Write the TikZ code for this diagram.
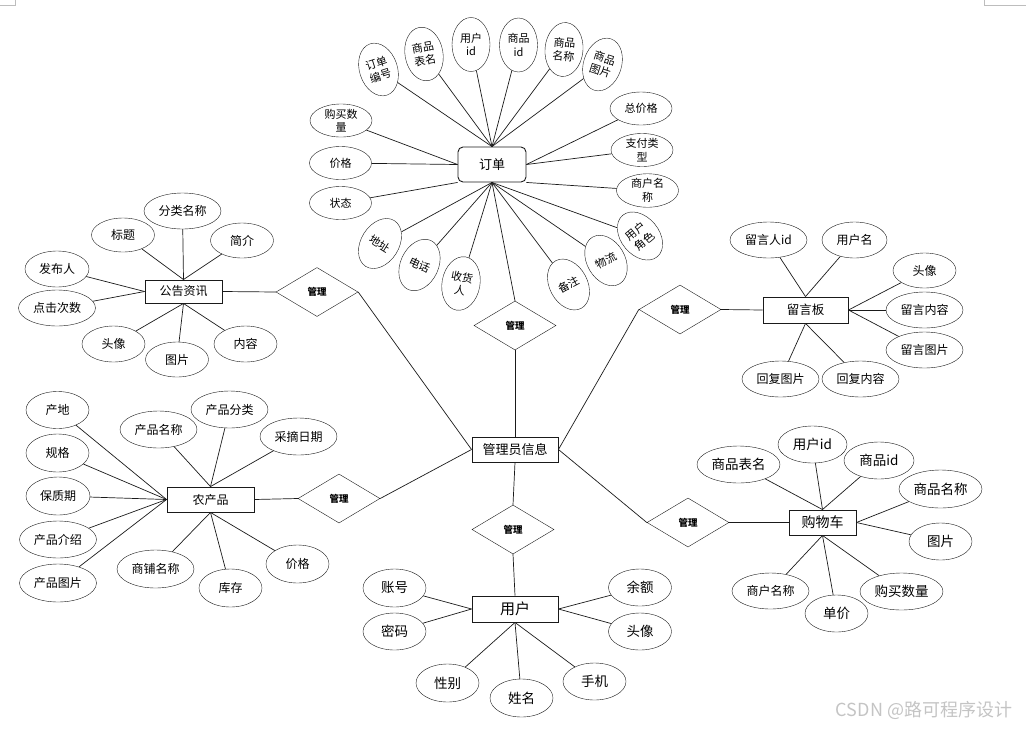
\documentclass[tikz,border=0pt]{standalone}
\usepackage{fontspec}
\newfontfamily\cjk{Noto Sans CJK SC}
\usetikzlibrary{shapes.geometric}
\definecolor{erLine}{HTML}{1A1A1A}
\definecolor{erMark}{HTML}{BDBDBD}
\definecolor{erMute}{HTML}{C4C4C4}
\newcommand{\fsz}[2]{\fontsize{#1}{#2}\selectfont}

\begin{document}
\begin{tikzpicture}[x=1pt,y=-1pt,font=\cjk,
      attr/.style={draw=erLine,ellipse,inner sep=0pt,minimum width=63pt,
                   minimum height=37pt,font=\cjk\fsz{12}{14}},
      wide/.style={minimum width=77pt},
      big/.style={font=\cjk\fsz{13.5}{16}},
      tall/.style={draw=erLine,ellipse,inner sep=0pt,minimum width=38pt,
                   minimum height=54pt,align=center,font=\cjk\fsz{11}{13.5}},
      flat/.style={draw=erLine,ellipse,inner sep=0pt,minimum width=62pt,
                   minimum height=33pt,align=center,font=\cjk\fsz{11}{13.5}},
      ent/.style={draw=erLine,line width=0.9pt,inner sep=0pt,minimum height=25pt,
                  font=\cjk\fsz{13}{16}},
      rel/.style={draw=erLine,diamond,inner sep=0pt,minimum width=82pt,
                  minimum height=49pt,font=\cjk\bfseries\fsz{9.5}{11}},
      link/.style={draw=erLine,line width=0.7pt}]

    \useasboundingbox (0,0) rectangle (1026,729);
    \draw[erMark] (0,5) -- (15,5) -- (15,0);
    \draw[erMark] (1026,5) -- (984,5) -- (984,0);

    % centre
    \node[ent,minimum width=86pt] (admin) at (515,449.5) {管理员信息};

    % order
    \node[ent,rounded corners=5pt,minimum width=68pt,minimum height=35pt] (order) at (492,164.5) {订单};
    \node[tall,rotate=18] (o1) at (378.5,69.5) {订单\\编号};
    \node[tall,rotate=10] (o2) at (424,54) {商品\\表名};
    \node[tall] (o3) at (471,44.5) {用户\\id};
    \node[tall] (o4) at (518.5,45) {商品\\id};
    \node[tall,rotate=-5] (o5) at (564,49.5) {商品\\名称};
    \node[tall,rotate=-18] (o6) at (602.5,64.5) {商品\\图片};
    \node[flat] (o7) at (641,108.5) {总价格};
    \node[flat] (o8) at (642,150) {支付类\\型};
    \node[flat] (o9) at (647.5,190.5) {商户名\\称};
    \node[tall,rotate=40] (o10) at (640,236) {用户\\角色};
    \node[tall,rotate=30] (o11) at (606,260.5) {物流};
    \node[tall,rotate=28] (o12) at (568.5,284.5) {备注};
    \node[tall,rotate=-10] (o13) at (461,283.5) {收货\\人};
    \node[tall,rotate=-25] (o14) at (419.5,265) {电话};
    \node[tall,rotate=-32] (o15) at (380,243.5) {地址};
    \node[flat] (o16) at (340.5,203) {状态};
    \node[flat] (o17) at (340.5,163) {价格};
    \node[flat] (o18) at (341,120.5) {购买数\\量};
    \foreach \a/\b in {o1/north,o2/north,o3/north,o4/north,o5/north,o6/north,
                       o7/east,o8/east,o9/south east,o10/south,o11/south,o12/south,
                       o13/south,o14/south,o15/south,o16/south west,o17/west,o18/west}
      \draw[link] (\a) -- (order.\b);
    \node[rel] (r1) at (515,325.5) {管理};
    \draw[link] (order.south) -- (r1.north);
    \draw[link] (r1.south) -- (admin.north);

    % notice
    \node[ent,minimum width=77pt,minimum height=23pt,font=\cjk\fsz{12}{14}] (notice) at (183.5,291.5) {公告资讯};
    \node[attr,wide,minimum height=36pt] (n1) at (182.5,211) {分类名称};
    \node[attr,minimum height=34pt] (n2) at (123,235) {标题};
    \node[attr,minimum height=35pt] (n3) at (242,240.5) {简介};
    \node[attr,minimum width=64pt,minimum height=36pt] (n4) at (57,269) {发布人};
    \node[attr,wide,minimum height=36pt] (n5) at (57,308) {点击次数};
    \node[attr,minimum height=36pt] (n6) at (113.5,344) {头像};
    \node[attr,minimum height=35pt] (n7) at (177,359.5) {图片};
    \node[attr,minimum height=36pt] (n8) at (245.5,344) {内容};
    \foreach \a/\b in {n1/north,n2/north,n3/north,n4/west,n5/west,n6/south,n7/south,n8/south}
      \draw[link] (\a) -- (notice.\b);
    \node[rel] (r2) at (317,292) {管理};
    \draw[link] (notice.east) -- (r2.west);
    \draw[link] (r2.east) -- (admin.west);

    % farm produce
    \node[ent,minimum width=87pt,font=\cjk\fsz{12}{14}] (farm) at (210.5,499.5) {农产品};
    \node[attr] (f1) at (57.5,410) {产地};
    \node[attr,minimum height=38pt] (f2) at (57.5,453) {规格};
    \node[attr,minimum width=64pt,minimum height=38pt] (f3) at (58,496) {保质期};
    \node[attr,wide] (f4) at (58,539.5) {产品介绍};
    \node[attr,wide,minimum height=38pt] (f5) at (58,583) {产品图片};
    \node[attr,wide] (f6) at (158.5,429.5) {产品名称};
    \node[attr,wide] (f7) at (229.5,409.5) {产品分类};
    \node[attr,wide] (f8) at (298.5,436.5) {采摘日期};
    \node[attr,wide,minimum height=38pt] (f9) at (155.5,569) {商铺名称};
    \node[attr,minimum height=38pt] (f10) at (230.5,588) {库存};
    \node[attr,minimum height=38pt] (f11) at (297.5,564) {价格};
    \foreach \a/\b in {f1/west,f2/west,f3/west,f4/west,f5/west,
                       f6/north,f7/north,f8/north,f9/south,f10/south,f11/south}
      \draw[link] (\a) -- (farm.\b);
    \node[rel] (r3) at (339,498.5) {管理};
    \draw[link] (farm.east) -- (r3.west);
    \draw[link] (r3.east) -- (admin.west);

    % message board
    \node[ent,minimum width=85pt,minimum height=26pt,font=\cjk\fsz{12.5}{15}] (board) at (805.5,310) {留言板};
    \node[attr,wide,minimum height=36pt] (b1) at (768.5,240) {留言人id};
    \node[attr,minimum width=65pt,minimum height=36pt] (b2) at (854.5,240) {用户名};
    \node[attr,minimum height=35pt] (b3) at (924.5,270.5) {头像};
    \node[attr,wide,minimum height=36pt] (b4) at (924.5,310) {留言内容};
    \node[attr,wide,minimum height=36pt] (b5) at (924.5,350) {留言图片};
    \node[attr,wide,minimum height=36pt] (b6) at (780.5,379) {回复图片};
    \node[attr,wide,minimum height=36pt] (b7) at (860.5,379) {回复内容};
    \foreach \a/\b in {b1/north,b2/north,b3/east,b4/east,b5/east,b6/south,b7/south}
      \draw[link] (\a) -- (board.\b);
    \node[rel] (r4) at (680,309.5) {管理};
    \draw[link] (admin.east) -- (r4.west);
    \draw[link] (r4.east) -- (board.west);

    % cart
    \node[ent,minimum width=67pt,font=\cjk\fsz{14}{16}] (cart) at (822.5,522.5) {购物车};
    \node[attr,big,minimum width=83pt] (c1) at (738.5,464.5) {商品表名};
    \node[attr,big,minimum width=69pt] (c2) at (812.5,444.5) {用户id};
    \node[attr,big,minimum width=70pt] (c3) at (879,460.5) {商品id};
    \node[attr,big,minimum width=83pt,minimum height=38pt] (c4) at (940.5,489) {商品名称};
    \node[attr,big] (c5) at (940.5,541.5) {图片};
    \node[attr,wide,minimum height=36pt] (c6) at (770.5,591) {商户名称};
    \node[attr,big] (c7) at (836.5,613.5) {单价};
    \node[attr,big,minimum width=83pt] (c8) at (901.5,591.5) {购买数量};
    \foreach \a/\b in {c1/north,c2/north,c3/north,c4/east,c5/east,c6/south,c7/south,c8/south}
      \draw[link] (\a) -- (cart.\b);
    \node[rel] (r5) at (688,522.5) {管理};
    \draw[link] (admin.east) -- (r5.west);
    \draw[link] (r5.east) -- (cart.west);

    % user
    \node[ent,minimum width=86pt,minimum height=26pt,font=\cjk\fsz{15}{17}] (user) at (515,609) {用户};
    \node[attr,big,minimum height=38pt] (u1) at (394.5,588) {账号};
    \node[attr,big] (u2) at (394.5,631.5) {密码};
    \node[attr,big] (u3) at (640,587.5) {余额};
    \node[attr,big] (u4) at (640,631.5) {头像};
    \node[attr,big,minimum height=38pt] (u5) at (447.5,683) {性别};
    \node[attr,big,minimum height=38pt] (u6) at (521.5,698) {姓名};
    \node[attr,big] (u7) at (594.5,681.5) {手机};
    \foreach \a/\b in {u1/west,u2/west,u3/east,u4/east,u5/south,u6/south,u7/south}
      \draw[link] (\a) -- (user.\b);
    \node[rel] (r6) at (513,529.5) {管理};
    \draw[link] (admin.south) -- (r6.north);
    \draw[link] (r6.south) -- (user.north);

    \node[text=erMute,font=\cjk\fsz{18}{20}] (mark) at (924,710) {CSDN @路可程序设计};
  \end{tikzpicture}
\end{document}
